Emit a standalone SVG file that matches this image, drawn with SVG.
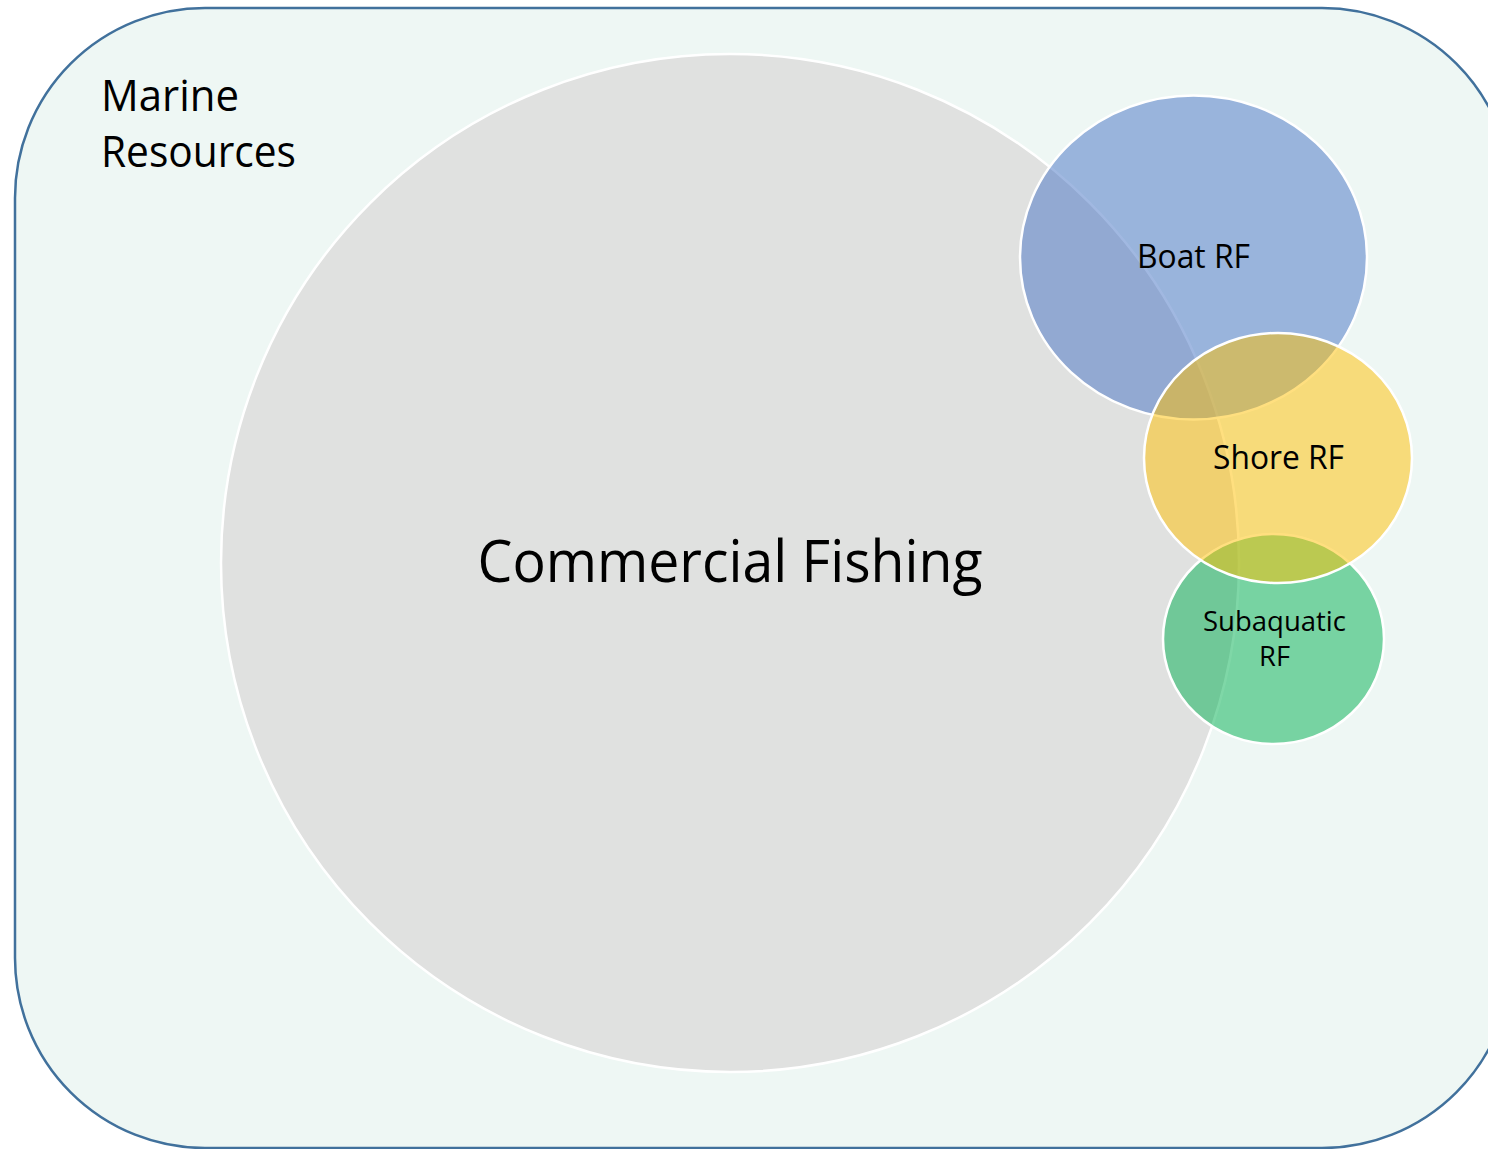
<svg xmlns="http://www.w3.org/2000/svg" width="1488" height="1149" viewBox="0 0 1488 1149">
<style>
text{font-family:"Open Sans","Liberation Sans",sans-serif;fill:#000;text-anchor:middle}
.venn{stroke:#fff;stroke-width:2.5}
</style>
<rect width="1488" height="1149" fill="#fff"/>
<g id="marine-resources">
<rect x="15" y="8" width="1497" height="1140" rx="190" ry="190" fill="#eef7f4" stroke="#41719c" stroke-width="2.5"/>
<text x="101" y="111" style="text-anchor:start" font-size="44" textLength="138" lengthAdjust="spacingAndGlyphs">Marine</text>
<text x="101" y="167" style="text-anchor:start" font-size="44" textLength="195" lengthAdjust="spacingAndGlyphs">Resources</text>
</g>
<g id="commercial-fishing">
<circle class="venn" cx="730" cy="563" r="509" fill="#e0e1e0"/>
<text x="730" y="582" font-size="58" textLength="505" lengthAdjust="spacingAndGlyphs">Commercial Fishing</text>
</g>
<g id="boat-rf">
<ellipse class="venn" cx="1193.5" cy="257.5" rx="173.5" ry="162" fill="#4472c4" fill-opacity="0.5"/>
<text x="1193.5" y="268" font-size="32" textLength="113" lengthAdjust="spacingAndGlyphs">Boat RF</text>
</g>
<g id="subaquatic-rf">
<ellipse class="venn" cx="1273.5" cy="639" rx="110.5" ry="105" fill="#00b050" fill-opacity="0.5"/>
<text x="1274.5" y="631" font-size="27" textLength="143" lengthAdjust="spacingAndGlyphs">Subaquatic</text>
<text x="1274.5" y="666" font-size="27" textLength="31" lengthAdjust="spacingAndGlyphs">RF</text>
</g>
<g id="shore-rf">
<ellipse class="venn" cx="1278" cy="458" rx="134" ry="125" fill="#ffc000" fill-opacity="0.5"/>
<text x="1278.5" y="469" font-size="32" textLength="131" lengthAdjust="spacingAndGlyphs">Shore RF</text>
</g>
<g id="connectors"/>
</svg>
